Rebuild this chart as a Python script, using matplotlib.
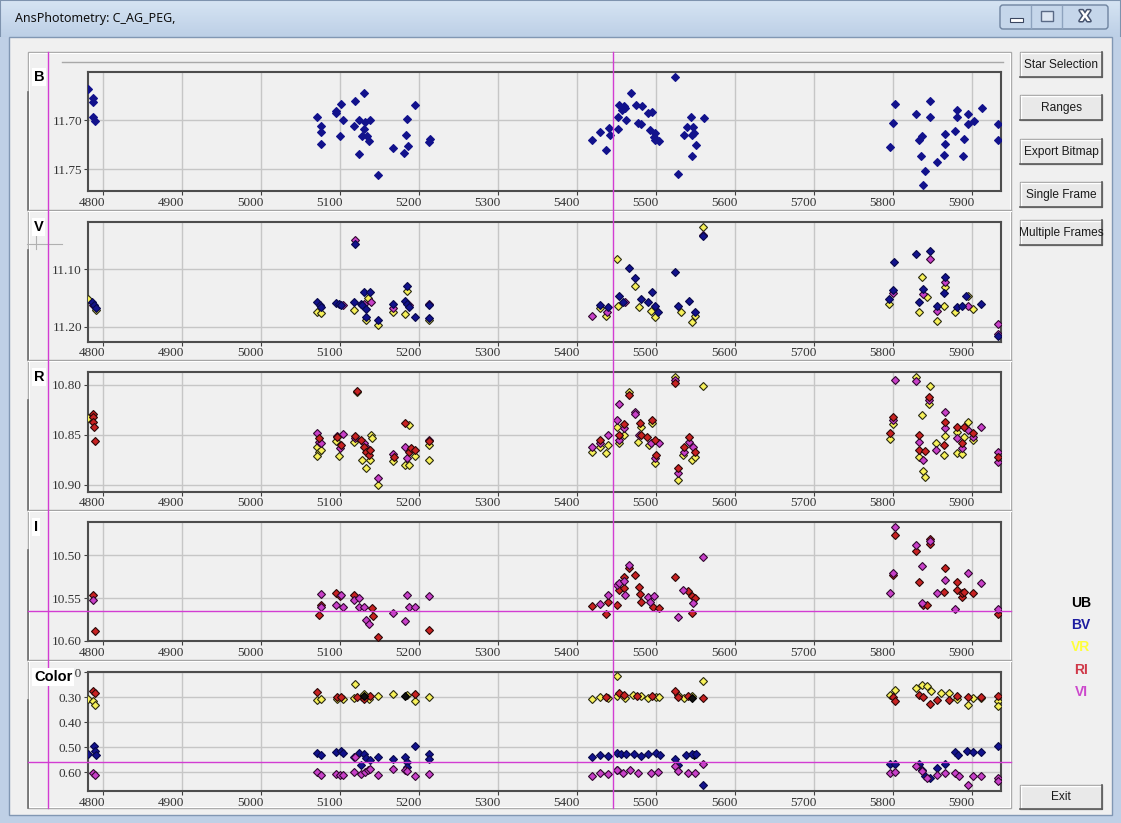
import matplotlib.pyplot as plt
import matplotlib.transforms as mtransforms
import matplotlib.patheffects as pe
from matplotlib.patches import Rectangle, FancyBboxPatch
from matplotlib.colors import LinearSegmentedColormap
import numpy as np

# ---------------- data (JD-2450000, magnitudes / colours) ----------------
X_TICKS = [4800, 4900, 5000, 5100, 5200, 5300, 5400, 5500, 5600, 5700, 5800, 5900]

b_bv = [(4781, 11.669), (4787, 11.678), (4787, 11.682), (4787, 11.697), (4790, 11.701),
        (5071, 11.697), (5076, 11.706), (5075, 11.712), (5075, 11.724), (5094, 11.691),
        (5095, 11.693), (5101, 11.684), (5099, 11.716), (5103, 11.700), (5117, 11.706),
        (5119, 11.681), (5124, 11.700), (5124, 11.734), (5127, 11.716), (5130, 11.673),
        (5130, 11.709), (5131, 11.702), (5134, 11.716), (5136, 11.721), (5137, 11.700),
        (5148, 11.756), (5167, 11.728), (5181, 11.733), (5183, 11.715), (5185, 11.699),
        (5186, 11.726), (5194, 11.685), (5212, 11.722), (5213, 11.719),
        (5418, 11.720), (5429, 11.712), (5436, 11.730), (5440, 11.708), (5441, 11.715),
        (5451, 11.709), (5451, 11.697), (5453, 11.685), (5457, 11.690), (5459, 11.686),
        (5460, 11.688), (5462, 11.700), (5468, 11.673), (5474, 11.685), (5477, 11.703),
        (5480, 11.704), (5482, 11.686), (5489, 11.693), (5495, 11.692), (5492, 11.710),
        (5498, 11.713), (5497, 11.717), (5498, 11.720), (5504, 11.721), (5524, 11.656),
        (5528, 11.755), (5535, 11.715), (5539, 11.707), (5544, 11.697), (5545, 11.715),
        (5548, 11.713), (5547, 11.707), (5545, 11.737), (5550, 11.725), (5560, 11.698),
        (5796, 11.727), (5799, 11.703), (5802, 11.684), (5829, 11.694), (5833, 11.720),
        (5836, 11.716), (5835, 11.736), (5837, 11.766), (5840, 11.752), (5847, 11.681),
        (5846, 11.697), (5855, 11.743), (5864, 11.735), (5866, 11.714), (5866, 11.724),
        (5878, 11.711), (5880, 11.690), (5880, 11.697), (5888, 11.736), (5890, 11.719),
        (5895, 11.694), (5895, 11.704), (5902, 11.701), (5912, 11.688), (5932, 11.704),
        (5932, 11.720)]

v_bv = [(4786, 11.157), (4788, 11.162), (4791, 11.168), (5071, 11.158), (5074, 11.162),
        (5076, 11.165), (5094, 11.159), (5098, 11.161), (5101, 11.163), (5117, 11.158),
        (5119, 11.057), (5126, 11.160), (5128, 11.163), (5130, 11.140), (5132, 11.170),
        (5137, 11.140), (5133, 11.183), (5148, 11.189), (5167, 11.160), (5182, 11.155),
        (5185, 11.129), (5185, 11.160), (5187, 11.165), (5194, 11.183), (5212, 11.185),
        (5212, 11.162),
        (5429, 11.162), (5439, 11.165), (5453, 11.146), (5458, 11.158), (5466, 11.098),
        (5473, 11.116), (5481, 11.152), (5489, 11.158), (5495, 11.139), (5498, 11.164),
        (5502, 11.175), (5524, 11.106), (5527, 11.164), (5542, 11.155), (5549, 11.175),
        (5559, 11.043),
        (5795, 11.152), (5799, 11.136), (5801, 11.088), (5829, 11.074), (5832, 11.158),
        (5838, 11.135), (5846, 11.068), (5855, 11.164), (5865, 11.114), (5864, 11.142),
        (5880, 11.165), (5887, 11.164), (5892, 11.146), (5911, 11.160), (5933, 11.216)]
v_vr = [(4781, 11.152), (4791, 11.171), (5071, 11.174), (5076, 11.177), (5117, 11.171),
        (5135, 11.150), (5133, 11.188), (5148, 11.197), (5167, 11.174), (5182, 11.178),
        (5185, 11.138), (5212, 11.188),
        (5429, 11.168), (5436, 11.181), (5450, 11.083), (5452, 11.164), (5473, 11.129),
        (5478, 11.166), (5493, 11.172), (5498, 11.184), (5531, 11.175), (5545, 11.191),
        (5549, 11.181), (5559, 11.028),
        (5795, 11.161), (5836, 11.113), (5832, 11.174), (5843, 11.149), (5855, 11.190),
        (5865, 11.132), (5864, 11.164), (5878, 11.174), (5894, 11.146), (5901, 11.169)]
v_vi = [(4787, 11.162), (5103, 11.163), (5119, 11.050), (5130, 11.160), (5139, 11.158),
        (5167, 11.167), (5187, 11.163), (5212, 11.160),
        (5418, 11.181), (5437, 11.175), (5460, 11.158), (5559, 11.041),
        (5799, 11.142), (5846, 11.082), (5838, 11.143), (5855, 11.172), (5866, 11.122),
        (5894, 11.164), (5933, 11.195), (5933, 11.213)]

r_ri = [(4787, 10.829), (4787, 10.832), (4787, 10.837), (4788, 10.842), (4790, 10.856),
        (5073, 10.853), (5096, 10.852), (5101, 10.860), (5119, 10.851), (5121, 10.806),
        (5126, 10.855), (5130, 10.862), (5133, 10.867), (5136, 10.870), (5138, 10.865),
        (5168, 10.872), (5182, 10.838), (5187, 10.867), (5190, 10.863), (5194, 10.865),
        (5212, 10.856),
        (5429, 10.855), (5453, 10.850), (5459, 10.839), (5466, 10.810), (5479, 10.838),
        (5480, 10.850), (5488, 10.852), (5495, 10.835), (5498, 10.855), (5499, 10.870),
        (5524, 10.798), (5527, 10.883), (5535, 10.862), (5542, 10.852), (5549, 10.867),
        (5796, 10.848), (5799, 10.832), (5832, 10.850), (5833, 10.865), (5840, 10.866),
        (5845, 10.812), (5864, 10.860), (5866, 10.837), (5880, 10.842), (5887, 10.858),
        (5890, 10.842), (5901, 10.848), (5933, 10.872)]
r_vr = [(4781, 10.833), (5071, 10.862), (5073, 10.867), (5071, 10.871), (5076, 10.865),
        (5094, 10.856), (5098, 10.871), (5117, 10.857), (5121, 10.807), (5128, 10.875),
        (5133, 10.883), (5137, 10.875), (5139, 10.850), (5140, 10.853), (5148, 10.900),
        (5167, 10.876), (5182, 10.880), (5187, 10.840), (5187, 10.880), (5194, 10.871),
        (5212, 10.860), (5212, 10.875),
        (5418, 10.867), (5429, 10.862), (5436, 10.868), (5439, 10.860), (5450, 10.842),
        (5453, 10.858), (5459, 10.850), (5466, 10.807), (5477, 10.857), (5481, 10.842),
        (5491, 10.860), (5495, 10.838), (5498, 10.878), (5524, 10.792), (5527, 10.895),
        (5534, 10.870), (5545, 10.875), (5549, 10.872), (5559, 10.801),
        (5796, 10.854), (5799, 10.839), (5829, 10.792), (5832, 10.872), (5836, 10.830),
        (5838, 10.886), (5840, 10.892), (5845, 10.819), (5846, 10.801), (5854, 10.858),
        (5864, 10.870), (5866, 10.851), (5880, 10.847), (5880, 10.868), (5887, 10.869),
        (5890, 10.852), (5894, 10.837), (5901, 10.855)]
r_vi = [(5071, 10.848), (5073, 10.857), (5076, 10.858), (5096, 10.851), (5099, 10.863),
        (5103, 10.849), (5119, 10.853), (5130, 10.858), (5134, 10.863), (5148, 10.893),
        (5167, 10.869), (5182, 10.862), (5185, 10.873), (5212, 10.855),
        (5418, 10.862), (5429, 10.858), (5439, 10.850), (5450, 10.835), (5453, 10.819),
        (5453, 10.855), (5459, 10.843), (5473, 10.827), (5473, 10.829), (5478, 10.850),
        (5493, 10.858), (5498, 10.873), (5503, 10.858), (5524, 10.795), (5527, 10.888),
        (5535, 10.867), (5542, 10.857), (5547, 10.862),
        (5799, 10.835), (5802, 10.795), (5829, 10.796), (5832, 10.857), (5838, 10.875),
        (5845, 10.815), (5854, 10.865), (5865, 10.827), (5865, 10.843), (5880, 10.853),
        (5887, 10.863), (5894, 10.845), (5901, 10.852), (5911, 10.842), (5933, 10.867),
        (5933, 10.877)]

i_ri = [(4787, 10.546), (4790, 10.588), (5073, 10.570), (5076, 10.558), (5094, 10.544),
        (5099, 10.547), (5117, 10.546), (5140, 10.562), (5142, 10.571), (5148, 10.595),
        (5212, 10.587),
        (5418, 10.559), (5436, 10.569), (5439, 10.555), (5450, 10.558), (5453, 10.540),
        (5459, 10.526), (5459, 10.538), (5466, 10.515), (5473, 10.523), (5478, 10.537),
        (5479, 10.545), (5480, 10.554), (5496, 10.560), (5503, 10.562), (5524, 10.525),
        (5540, 10.542), (5545, 10.548), (5549, 10.550), (5545, 10.567),
        (5799, 10.523), (5802, 10.476), (5829, 10.495), (5832, 10.531), (5838, 10.558),
        (5842, 10.558), (5846, 10.481), (5846, 10.487), (5864, 10.543), (5865, 10.515),
        (5880, 10.531), (5880, 10.541), (5887, 10.549), (5887, 10.544), (5890, 10.543),
        (5901, 10.544), (5933, 10.568)]
i_vi = [(4787, 10.552), (5076, 10.560), (5076, 10.545), (5094, 10.558), (5101, 10.546),
        (5103, 10.560), (5117, 10.552), (5124, 10.550), (5124, 10.560), (5130, 10.560),
        (5133, 10.575), (5136, 10.580), (5167, 10.567), (5182, 10.577), (5185, 10.546),
        (5187, 10.560), (5194, 10.560), (5212, 10.548),
        (5429, 10.557), (5439, 10.546), (5450, 10.535), (5453, 10.533), (5459, 10.530),
        (5460, 10.546), (5466, 10.511), (5490, 10.549), (5492, 10.555), (5497, 10.548),
        (5527, 10.572), (5534, 10.540), (5547, 10.556), (5559, 10.502),
        (5796, 10.544), (5799, 10.521), (5802, 10.467), (5829, 10.488), (5836, 10.513),
        (5836, 10.556), (5846, 10.483), (5855, 10.544), (5865, 10.529), (5878, 10.563),
        (5894, 10.521), (5911, 10.533), (5933, 10.563)]

c_vr = [(4780, 0.307), (4787, 0.316), (4790, 0.329), (5071, 0.310), (5076, 0.305),
        (5096, 0.307), (5103, 0.306), (5119, 0.247), (5117, 0.303), (5127, 0.300),
        (5130, 0.288), (5136, 0.305), (5148, 0.296), (5167, 0.287), (5185, 0.289),
        (5194, 0.316), (5212, 0.300),
        (5418, 0.305), (5429, 0.300), (5439, 0.303), (5450, 0.216), (5450, 0.296),
        (5460, 0.303), (5470, 0.289), (5480, 0.296), (5490, 0.303), (5500, 0.300),
        (5504, 0.300), (5527, 0.289), (5535, 0.303), (5545, 0.296), (5559, 0.236),
        (5796, 0.292), (5802, 0.269), (5829, 0.263), (5836, 0.249), (5843, 0.256),
        (5848, 0.276), (5860, 0.283), (5870, 0.283), (5880, 0.305), (5894, 0.329),
        (5901, 0.303), (5911, 0.303), (5933, 0.316), (5933, 0.336)]
c_ri = [(4787, 0.276), (4789, 0.283), (5071, 0.279), (5096, 0.300), (5101, 0.300),
        (5121, 0.297), (5130, 0.307), (5137, 0.293), (5194, 0.288),
        (5436, 0.300), (5453, 0.283), (5459, 0.292), (5475, 0.296), (5495, 0.296),
        (5524, 0.276), (5527, 0.300), (5540, 0.296), (5559, 0.303),
        (5799, 0.300), (5802, 0.313), (5832, 0.289), (5838, 0.300), (5846, 0.327),
        (5855, 0.309), (5870, 0.309), (5880, 0.296), (5894, 0.300), (5911, 0.300),
        (5933, 0.296)]
c_ub = [(5130, 0.296), (5182, 0.295), (5545, 0.302), (5548, 0.532)]
c_bv = [(4780, 0.527), (4788, 0.496), (4789, 0.516), (4791, 0.529), (5071, 0.523),
        (5076, 0.529), (5094, 0.519), (5101, 0.515), (5103, 0.522), (5117, 0.540),
        (5124, 0.522), (5130, 0.528), (5133, 0.543), (5137, 0.552), (5126, 0.569),
        (5148, 0.540), (5167, 0.545), (5182, 0.537), (5185, 0.560), (5185, 0.580),
        (5194, 0.496), (5212, 0.525), (5212, 0.545),
        (5418, 0.540), (5429, 0.529), (5439, 0.536), (5450, 0.523), (5450, 0.589),
        (5455, 0.527), (5462, 0.527), (5472, 0.527), (5480, 0.536), (5490, 0.527),
        (5500, 0.523), (5505, 0.529), (5524, 0.545), (5527, 0.572), (5538, 0.532),
        (5545, 0.527), (5550, 0.525), (5559, 0.649),
        (5796, 0.567), (5802, 0.567), (5832, 0.565), (5836, 0.589), (5840, 0.616),
        (5846, 0.623), (5855, 0.583), (5866, 0.567), (5878, 0.520), (5882, 0.529),
        (5893, 0.516), (5901, 0.520), (5911, 0.520), (5933, 0.496)]
c_vi = [(4787, 0.603), (4789, 0.609), (5071, 0.597), (5076, 0.610), (5094, 0.607),
        (5099, 0.612), (5103, 0.609), (5117, 0.600), (5119, 0.540), (5126, 0.605),
        (5131, 0.597), (5135, 0.590), (5138, 0.586), (5148, 0.609), (5167, 0.585),
        (5182, 0.589), (5185, 0.593), (5194, 0.613), (5212, 0.605),
        (5418, 0.616), (5429, 0.604), (5439, 0.607), (5450, 0.589), (5458, 0.603),
        (5467, 0.589), (5477, 0.603), (5493, 0.603), (5502, 0.599), (5524, 0.576),
        (5527, 0.596), (5540, 0.603), (5549, 0.603), (5559, 0.565),
        (5796, 0.603), (5802, 0.599), (5829, 0.576), (5836, 0.596), (5843, 0.623),
        (5855, 0.609), (5866, 0.603), (5878, 0.603), (5883, 0.616), (5894, 0.649),
        (5901, 0.613), (5911, 0.613), (5933, 0.623), (5933, 0.636)]

# cursor positions (crosshair of the program)
cursor_jd = 5445
cursor_i = 10.565
cursor_color = 0.559

# ---------------- look ----------------
W, H = 1121, 823
XLIM = (4780, 5936.3)
COLORS = {'UB': ('#101010', '#000000'), 'BV': ('#12128c', '#08084a'),
          'VR': ('#f6f05a', '#2a2a10'), 'RI': ('#c82222', '#2a0808'),
          'VI': ('#c840c8', '#30082e')}
LEGEND_COLORS = {'UB': '#000000', 'BV': '#1c1ca0', 'VR': '#ffff3a', 'RI': '#d03848', 'VI': '#cc48cc'}

plt.rcParams['font.family'] = 'Liberation Serif'

fig = plt.figure(figsize=(W / 100, H / 100), dpi=100)
fig.patch.set_facecolor('#f0f0f0')

bg = fig.add_axes([0, 0, 1, 1], zorder=0)
bg.axis('off')

# window chrome
title_cmap = LinearSegmentedColormap.from_list('title', ['#d6e4f3', '#bccfe6'])
bg.imshow(np.linspace(0, 1, 40)[:, None], extent=(0, W, 38, 0), cmap=title_cmap, aspect='auto')
bg.add_patch(Rectangle((0, 0), W, H, fc='none', ec='#7e93ae', lw=1.5))
bg.add_patch(Rectangle((0, 37), 9, H - 37, fc='#bfd0e6', ec='none'))
bg.add_patch(Rectangle((W - 9, 37), 9, H - 37, fc='#bfd0e6', ec='none'))
bg.add_patch(Rectangle((0, H - 8), W, 8, fc='#bfd0e6', ec='none'))
bg.add_patch(Rectangle((9, 37), W - 18, H - 45, fc='#f0f0f0', ec='#8197b3', lw=1))
bg.text(15, 18, 'AnsPhotometry: C_AG_PEG,', fontsize=9, family='Noto Sans',
        va='center', ha='left', color='#101010')

bg.add_patch(FancyBboxPatch((1000, 5), 108, 24, boxstyle='round,pad=0,rounding_size=3',
                            fc='#c5d6ea', ec='#6f84a0', lw=1))
for sx in (1031, 1062):
    bg.plot([sx, sx], [6, 28], color='#8ea3be', lw=1)
bg.add_patch(Rectangle((1010, 18), 13, 4, fc='white', ec='#3a4660', lw=0.8))
bg.add_patch(Rectangle((1041, 11), 12, 10, fc='#dde6f2', ec='#5a6a86', lw=1))
bg.text(1085, 16.5, 'X', fontsize=10.5, fontweight='bold', color='white', family='DejaVu Sans',
        ha='center', va='center',
        path_effects=[pe.withStroke(linewidth=2.2, foreground='#46536e')])

# right-hand buttons
BUTTONS = [('Star Selection', 52, 77), ('Ranges', 95, 120), ('Export Bitmap', 139, 164),
           ('Single Frame', 182, 207), ('Multiple Frames', 220, 245), ('Exit', 785, 809)]
for label, y0, y1 in BUTTONS:
    x0, x1 = 1020, 1102
    bg.add_patch(Rectangle((x0, y0), x1 - x0, y1 - y0, fc='#e9e9e9', ec='#9a9a9a', lw=1))
    bg.plot([x0 + 1, x1 - 1], [y0 + 1, y0 + 1], color='white', lw=1)
    bg.plot([x0 + 1, x0 + 1], [y0 + 1, y1 - 1], color='white', lw=1)
    bg.plot([x1, x1], [y0, y1], color='#5a5a5a', lw=1.2)
    bg.plot([x0, x1], [y1, y1], color='#5a5a5a', lw=1.2)
    bg.text((x0 + x1) / 2, (y0 + y1) / 2, label, fontsize=8.6, family='Liberation Sans',
            ha='center', va='center', color='#1a1a1a', clip_on=True)

for i, (name, c) in enumerate(LEGEND_COLORS.items()):
    bg.text(1081, 603 + i * 22.2, name, fontsize=10, fontweight='bold', family='Liberation Sans',
            ha='center', va='center', color=c)

# frame holding the five graphs
FRAME = (28, 52, 1011, 808)
bg.add_patch(Rectangle((FRAME[0], FRAME[1]), FRAME[2] - FRAME[0], FRAME[3] - FRAME[1],
                       fc='none', ec='#a8a8a8', lw=1))
bg.add_patch(Rectangle((FRAME[0] + 1, FRAME[1] + 1), FRAME[2] - FRAME[0] - 2, FRAME[3] - FRAME[1] - 2,
                       fc='none', ec='white', lw=0.8))
PANEL_TOPS = [52, 210, 360, 510, 660]
PANEL_BOTTOMS = [210, 360, 510, 660, 808]
for top, bot in zip(PANEL_TOPS, PANEL_BOTTOMS):
    if top > 52:
        bg.plot([FRAME[0], FRAME[2]], [top, top], color='#a0a0a0', lw=1)
        bg.plot([FRAME[0], FRAME[2]], [top + 1, top + 1], color='white', lw=0.8)
    bg.plot([FRAME[0], FRAME[0]], [top + 40, bot], color='#6e6e6e', lw=1.2)
bg.plot([62, 1003], [62, 62], color='#a8a8a8', lw=1)
bg.plot([27, 62], [244, 244], color='#b0b0b0', lw=0.8)
bg.plot([36, 36], [236, 249], color='#b0b0b0', lw=0.8)

bg.set_xlim(0, W)
bg.set_ylim(H, 0)

# ---------------- the five graphs ----------------
panels = [
    ('B', (87.5, 71.7, 1001, 191), (11.772, 11.651), [11.70, 11.75], [('BV', b_bv)], 77),
    ('V', (87.5, 221.7, 1001, 341.7), (11.226, 11.018), [11.10, 11.20],
     [('VR', v_vr), ('VI', v_vi), ('BV', v_bv)], 227),
    ('R', (87.5, 371.7, 1001, 491.7), (10.907, 10.787), [10.80, 10.85, 10.90],
     [('VR', r_vr), ('VI', r_vi), ('RI', r_ri)], 377),
    ('I', (87.5, 521.7, 1001, 641), (10.60, 10.461), [10.50, 10.55, 10.60],
     [('RI', i_ri), ('VI', i_vi)], 527),
    ('Color', (87.5, 671.7, 1001, 791), (0.675, 0.197), [0.20, 0.30, 0.40, 0.50, 0.60],
     [('VR', c_vr), ('RI', c_ri), ('UB', c_ub), ('BV', c_bv), ('VI', c_vi)], 677),
]

offset = mtransforms.ScaledTranslation(2 / 100, 0, fig.dpi_scale_trans)
axes = {}
for name, (x0, y0, x1, y1), ylim, yticks, series, label_y in panels:
    ax = fig.add_axes([x0 / W, 1 - y1 / H, (x1 - x0) / W, (y1 - y0) / H], zorder=2)
    ax.set_facecolor('#f0f0f0')
    ax.set_xlim(*XLIM)
    ax.set_ylim(*ylim)
    ax.set_xticks(X_TICKS, [str(t) for t in X_TICKS])
    ax.set_yticks(yticks, ['%.2f' % t for t in yticks])
    ax.grid(True, color='#c6c6c6', lw=1)
    ax.set_axisbelow(True)
    for sp in ax.spines.values():
        sp.set_color('#4d4d4d')
        sp.set_linewidth(1.5)
    ax.tick_params(direction='out', length=3, width=0.8, color='#404040', pad=1,
                   labelsize=9.5, labelcolor='#333333')
    for lbl in ax.get_xticklabels():
        lbl.set_horizontalalignment('right')
        lbl.set_transform(lbl.get_transform() + offset)
    for key, pts in series:
        jd, val = zip(*pts)
        face, edge = COLORS[key]
        if name == 'B':
            edge = face
        ax.plot(jd, val, linestyle='none', marker='D', ms=4.5, mfc=face, mec=edge, mew=0.8,
                clip_on=True, zorder=3)
    axes[name] = ax

# overlay: crosshair cursor lines and panel captions
ov = fig.add_axes([0, 0, 1, 1], zorder=5)
ov.axis('off')
ov.set_xlim(0, W)
ov.set_ylim(H, 0)

cx = axes['B'].transData.transform((cursor_jd, 11.7))[0]
ov.plot([cx, cx], [FRAME[1], FRAME[3]], color='#d23cd2', lw=1)
ov.plot([47.7, 47.7], [FRAME[1], FRAME[3]], color='#d23cd2', lw=1)
hy = H - axes['I'].transData.transform((5000, cursor_i))[1]
ov.plot([FRAME[0], FRAME[2]], [hy, hy], color='#d23cd2', lw=1)
hy = H - axes['Color'].transData.transform((5000, cursor_color))[1]
ov.plot([FRAME[0], FRAME[2]], [hy, hy], color='#d23cd2', lw=1)

for name, box, ylim, yticks, series, label_y in panels:
    ov.text(34, label_y, name, fontsize=10.5, fontweight='bold', family='Liberation Sans',
            ha='left', va='center', color='black',
            bbox=dict(fc='white', ec='none', pad=1.2))

fig.savefig('out.png', dpi=100)
